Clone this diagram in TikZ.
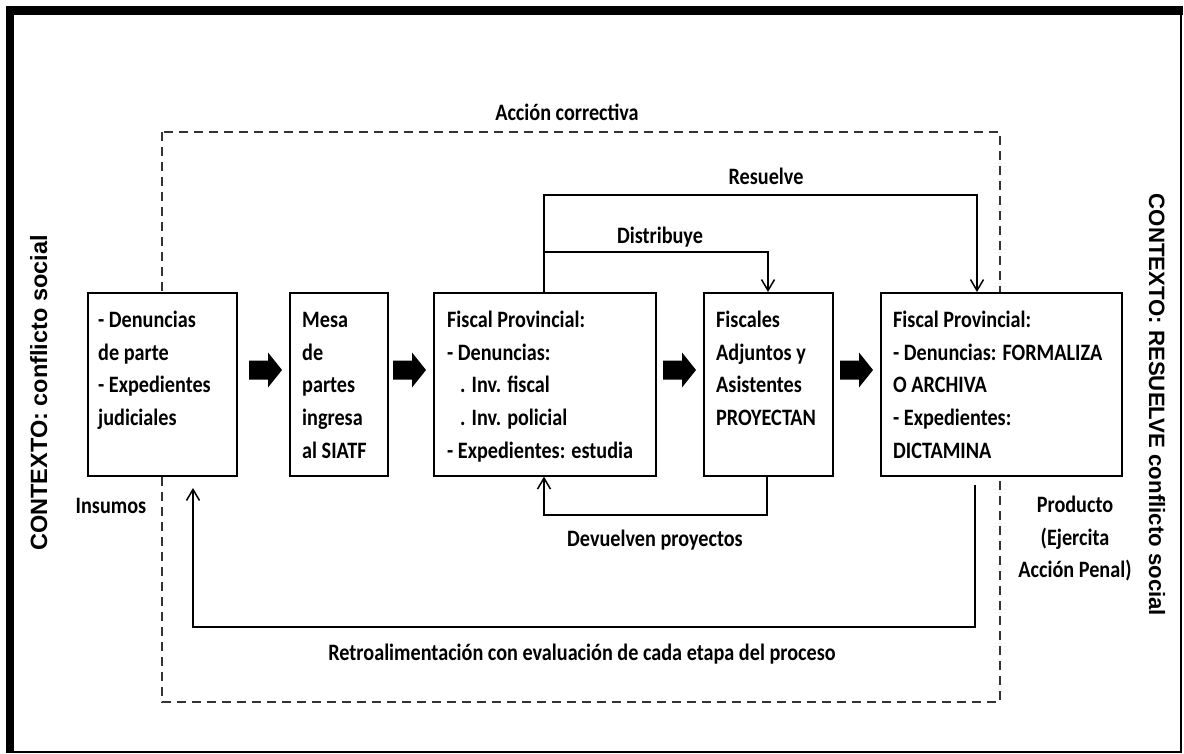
\documentclass[tikz,border=0pt]{standalone}
\usepackage{fontspec}
\usetikzlibrary{arrows.meta}
\newfontfamily\boxfont{Carlito}[FakeStretch=0.86]
\newfontfamily\ctxfont{Liberation Sans}

\begin{document}
\begin{tikzpicture}[x=1pt,y=-1pt,
  box/.style={draw=black, line width=1.6pt, fill=white, inner sep=0pt, anchor=north west, minimum height=183pt},
  txt/.style={font=\boxfont\bfseries\fontsize{23.5}{32.8}\selectfont, align=left, inner sep=0pt, anchor=north west},
  lbl/.style={font=\boxfont\bfseries\fontsize{23.5}{32.8}\selectfont, inner sep=0pt, anchor=base},
  ctx/.style={font=\ctxfont\bfseries, inner sep=0pt, anchor=base},
  conn/.style={draw=black, line width=1.5pt},
  tip/.style={-{Straight Barb[length=11pt,width=13pt]}},
  dashbox/.style={draw=black!80, line width=1.4pt, dash pattern=on 9pt off 6pt},
  barrow/.pic={\fill[black] (0,-9.5) -- (19,-9.5) -- (19,-17.5) -- (33,0) -- (19,17.5) -- (19,9.5) -- (0,9.5) -- cycle;}
]
\useasboundingbox (0,0) rectangle (1184,754);
\fill[white] (0,0) rectangle (1184,754);

% outer frame: heavy top and left edges
\draw[line width=2pt] (10,10) rectangle (1181,752);
\fill[black] (6,6) rectangle (1183,15);
\fill[black] (6,6) rectangle (14,753);

% dashed system boundary
\draw[dashbox] (162,132) rectangle (1000,702);
\node[lbl] (accion) at (567,121) {Acción correctiva};

% process stages
\node[box, minimum width=149pt] (b1) at (87,292) {};
\node[box, minimum width=98pt]  (b2) at (289,292) {};
\node[box, minimum width=222pt] (b3) at (433,292) {};
\node[box, minimum width=129pt] (b4) at (703,292) {};
\node[box, minimum width=241pt] (b5) at (880,292) {};

\node[txt] (t1) at (98,308) {\rule{0pt}{19pt}- Denuncias\\de parte\\- Expedientes\\judiciales};
\node[txt] (t2) at (302,308) {\rule{0pt}{19pt}Mesa\\de\\partes\\ingresa\\al SIATF};
\node[txt] (t3) at (447,308) {\rule{0pt}{19pt}Fiscal Provincial:\\- Denuncias:\\\hspace*{13pt}. Inv. fiscal\\\hspace*{13pt}. Inv. policial\\- Expedientes: estudia};
\node[txt] (t4) at (716,308) {\rule{0pt}{19pt}Fiscales\\Adjuntos y\\Asistentes\\PROYECTAN};
\node[txt] (t5) at (893,308) {\rule{0pt}{19pt}Fiscal Provincial:\\- Denuncias: FORMALIZA\\O ARCHIVA\\- Expedientes:\\DICTAMINA};

% block arrows between stages
\pic at (249,370) {barrow};
\pic at (393,370) {barrow};
\pic at (663,370) {barrow};
\pic at (840,370) {barrow};

% Resuelve / Distribuye
\coordinate (rs) at (544,195);
\coordinate (re) at (977,195);
\draw[conn, tip] (b3.north -| rs) -- (rs) -- (re) -- (b5.north -| re);
\node[lbl] (resuelve) at (766,185) {Resuelve};

\coordinate (ds) at (544,252);
\coordinate (de) at (768,252);
\draw[conn, tip] (ds) -- (de) -- (b4.north -| de);
\node[lbl] (distribuye) at (660,244) {Distribuye};

% Devuelven proyectos
\coordinate (dv1) at (767,515);
\coordinate (dv2) at (544,515);
\draw[conn, tip] (b4.south -| dv1) -- (dv1) -- (dv2) -- (b3.south -| dv2);
\node[lbl] (devuelven) at (655,546) {Devuelven proyectos};

% feedback loop
\coordinate (rt0) at (975,485);
\coordinate (rt1) at (975,627);
\coordinate (rt2) at (193,627);
\coordinate (rt3) at (193,488);
\draw[conn, tip] (rt0) -- (rt1) -- (rt2) -- (rt3);
\node[lbl] (retro) at (582,660) {Retroalimentación con evaluación de cada etapa del proceso};

% inputs and output
\node[lbl] (insumos) at (111,513) {Insumos};
\node[lbl, align=center, anchor=north] (producto) at (1075,493) {\rule{0pt}{19pt}Producto\\(Ejercita\\Acción Penal)};

% context
\node[ctx, rotate=90, font=\ctxfont\bfseries\fontsize{23.5}{28}\selectfont] (ctxl) at (47,393) {CONTEXTO: conflicto social};
\node[ctx, rotate=-90, font=\ctxfont\bfseries\fontsize{22.2}{26}\selectfont] (ctxr) at (1149,405) {CONTEXTO: RESUELVE conflicto social};
\end{tikzpicture}
\end{document}
